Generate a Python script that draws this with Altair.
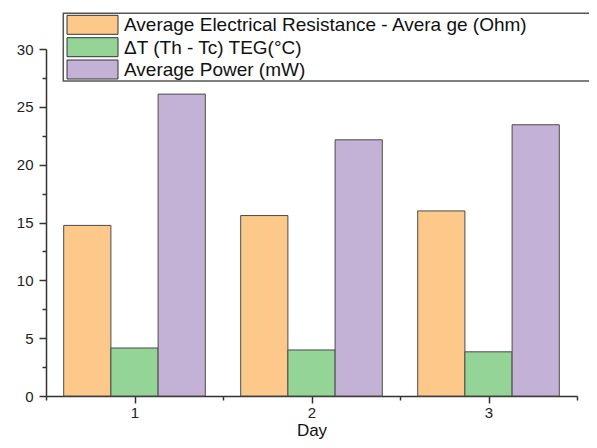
import altair as alt
import pandas as pd

days = [1, 2, 3]
series = [
    "Average Electrical Resistance - Avera ge (Ohm)",
    "ΔT (Th - Tc) TEG(°C)",
    "Average Power (mW)",
]
resistance = [14.75, 15.6, 16.0]
delta_t = [4.15, 3.98, 3.82]
power = [26.1, 22.15, 23.45]
colors = ["#FDC98B", "#95D497", "#C4B1D6"]

y_ticks = [0, 2.5, 5, 7.5, 10, 12.5, 15, 17.5, 20, 22.5, 25, 27.5, 30]
x_ticks = [0.5, 1, 1.5, 2, 2.5, 3, 3.5]

rows = []
for idx, (name, vals) in enumerate(zip(series, [resistance, delta_t, power])):
    for d, v in zip(days, vals):
        rows.append({"day": d, "series": name, "idx": idx, "value": v})
df = pd.DataFrame(rows)

FONT = "Liberation Sans"
bar_w = 0.8 / 3

bars = (
    alt.Chart(df)
    .transform_calculate(
        x0=f"datum.day - 0.4 + datum.idx * {bar_w}",
        x1=f"datum.day - 0.4 + (datum.idx + 1) * {bar_w}",
    )
    .mark_bar(stroke="#4a4a4a", strokeWidth=1)
    .encode(
        x=alt.X(
            "x0:Q",
            scale=alt.Scale(domain=[0.5, 3.5], nice=False, zero=False),
            axis=alt.Axis(
                values=x_ticks,
                labelExpr="datum.value % 1 === 0 ? format(datum.value, 'd') : ''",
                labelFlush=False,
                labelOverlap=False,
                labelFontSize=15,
                title="Day",
                titleFontSize=17,
                tickSize={"condition": {"test": "datum.value % 1 === 0", "value": 7}, "value": 4},
                labelPadding=2,
                titleBaseline="alphabetic",
                titleY=39,
                grid=False,
            ),
        ),
        x2="x1:Q",
        y=alt.Y(
            "value:Q",
            scale=alt.Scale(domain=[0, 30], nice=False),
            axis=alt.Axis(
                values=y_ticks,
                labelExpr="datum.value % 5 === 0 ? datum.label : ''",
                labelOverlap=False,
                title=None,
                tickSize={"condition": {"test": "datum.value % 5 === 0", "value": 7}, "value": 4},
                labelPadding=6,
                grid=False,
            ),
        ),
        y2=alt.datum(0),
        color=alt.Color(
            "series:N",
            scale=alt.Scale(domain=series, range=colors),
            legend=None,
        ),
    )
)

# legend drawn as marks
legend_box = (
    alt.Chart(pd.DataFrame({"k": [0]}))
    .mark_rect(fill="white", stroke="#555555", strokeWidth=1.5)
    .encode(x=alt.value(17.3), x2=alt.value(570), y=alt.value(-35.7), y2=alt.value(32))
)
legend_layers = [legend_box]
row_tops = [-33.7, -11.3, 11]
for name, col, top in zip(series, colors, row_tops):
    sw = (
        alt.Chart(pd.DataFrame({"label": [name]}))
        .mark_rect(fill=col, stroke="#333333", strokeWidth=1)
        .encode(x=alt.value(21), x2=alt.value(72), y=alt.value(top), y2=alt.value(top + 19))
    )
    tx = (
        alt.Chart(pd.DataFrame({"label": [name]}))
        .mark_text(align="left", baseline="middle", font=FONT, fontSize=19, color="#111111")
        .encode(x=alt.value(78), y=alt.value(top + 10), text="label:N")
    )
    legend_layers += [sw, tx]

chart = (
    alt.layer(bars, *legend_layers)
    .properties(
        width=531,
        height=347,
        padding={"left": 38, "top": 41, "right": 12, "bottom": 44},
        autosize=alt.AutoSizeParams(type="none"),
        background="white",
    )
    .configure_view(stroke=None)
    .configure_axis(
        domainColor="#333333",
        domainWidth=1.5,
        tickColor="#333333",
        tickWidth=1.5,
        labelFont=FONT,
        labelFontSize=15,
        labelColor="#222222",
        titleFont=FONT,
        titleFontSize=18,
        titleFontWeight="normal",
        titleColor="#111111",
    )
)

chart.save("out.html", embed_options={"renderer": "svg", "actions": False})
